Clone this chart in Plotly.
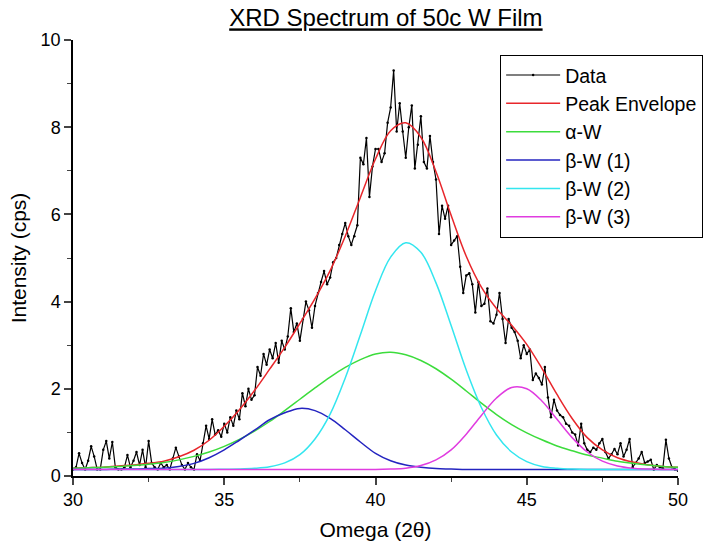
import plotly.graph_objects as go

# ---- measured data (step 0.1 deg) ----
data_x0 = 30.0
data_step = 0.1
data_y = [
    0.15, 0.2, 0.52, 0.3, 0.15, 0.35, 0.68, 0.45, 0.15, 0.15,
    0.6, 0.8, 0.4, 0.78, 0.2, 0.15, 0.15, 0.2, 0.48, 0.2,
    0.35, 0.55, 0.25, 0.6, 0.2, 0.8, 0.3, 0.2, 0.15, 0.3,
    0.2, 0.25, 0.15, 0.4, 0.65, 0.45, 0.25, 0.15, 0.3, 0.2,
    0.15, 0.5, 0.35, 0.75, 1.15, 0.85, 1.3, 0.95, 1.05, 0.9,
    1.2, 1.0, 1.35, 1.15, 1.5, 1.3, 1.9, 1.6, 2.0, 1.75,
    1.85, 2.5, 2.3, 2.8, 2.55, 2.9, 2.7, 3.05, 2.6, 3.1,
    2.9, 3.2, 3.85, 3.3, 3.5, 3.1, 3.6, 4.0, 3.8, 3.4,
    3.9, 4.2, 4.45, 4.7, 4.4, 4.55, 4.9, 5.0, 5.3, 5.55,
    5.8, 5.5, 5.3, 5.5, 5.75, 7.3, 7.15, 7.75, 6.4, 7.1,
    7.5, 7.5, 7.2, 7.4, 8.1, 8.45, 9.3, 7.9, 8.55, 7.9,
    7.3, 8.0, 8.5, 7.05, 7.6, 8.25, 7.2, 7.05, 7.8, 7.2,
    6.8, 5.55, 6.2, 5.9, 6.2, 5.3, 5.4, 5.5, 4.8, 4.2,
    4.6, 4.65, 4.4, 3.75, 4.45, 3.9, 3.95, 4.3, 3.55, 3.5,
    3.7, 4.2, 3.6, 3.05, 3.6, 3.4, 3.3, 3.1, 2.7, 3.0,
    2.8, 2.9, 2.2, 2.35, 2.25, 2.1, 2.5, 1.8, 1.35, 1.75,
    1.5, 1.4, 1.35, 1.2, 1.15, 1.0, 0.95, 0.7, 1.2, 0.75,
    0.6, 0.55, 0.65, 0.6, 0.75, 0.85, 0.55, 0.4, 0.5, 0.62,
    0.5, 0.75, 0.45, 0.6, 0.85, 0.2, 0.3, 0.4, 0.55, 0.3,
    0.33, 0.37, 0.15, 0.25, 0.2, 0.18, 0.83, 0.4, 0.2, 0.15,
    0.12,
]
data_x = [round(data_x0 + i * data_step, 2) for i in range(len(data_y))]

# ---- fitted curves (step 0.5 deg) ----
fit_x = [30 + 0.5 * i for i in range(41)]
envelope = [0.18, 0.19, 0.2, 0.23, 0.25, 0.29, 0.34, 0.44, 0.59, 0.82,
            1.14, 1.52, 1.96, 2.45, 2.95, 3.5, 4.07, 4.71, 5.5, 6.39,
            7.27, 7.92, 8.1, 7.77, 6.98, 5.98, 5.04, 4.33, 3.84, 3.46,
            3.02, 2.47, 1.87, 1.32, 0.88, 0.6, 0.42, 0.32, 0.26, 0.22, 0.2]
alpha_w = [0.18, 0.19, 0.2, 0.22, 0.24, 0.27, 0.31, 0.37, 0.45, 0.55,
           0.68, 0.84, 1.03, 1.25, 1.5, 1.76, 2.02, 2.27, 2.49, 2.67,
           2.8, 2.84, 2.78, 2.65, 2.46, 2.22, 1.95, 1.67, 1.41, 1.18,
           0.99, 0.83, 0.69, 0.58, 0.48, 0.41, 0.34, 0.29, 0.25, 0.22, 0.2]
beta_w1 = [0.15, 0.15, 0.15, 0.16, 0.16, 0.17, 0.18, 0.22, 0.29, 0.42,
           0.6, 0.82, 1.05, 1.29, 1.45, 1.55, 1.5, 1.32, 1.06, 0.78,
           0.52, 0.35, 0.25, 0.2, 0.17, 0.16, 0.15, 0.15, 0.15, 0.15,
           0.15, 0.15, 0.15, 0.15, 0.15, 0.15, 0.15, 0.15, 0.15, 0.15, 0.15]
beta_w2 = [0.15, 0.15, 0.15, 0.15, 0.15, 0.15, 0.15, 0.15, 0.15, 0.15,
           0.155, 0.16, 0.175, 0.21, 0.3, 0.49, 0.85, 1.42, 2.25, 3.24,
           4.25, 5.02, 5.35, 5.13, 4.43, 3.45, 2.43, 1.57, 0.94, 0.55,
           0.33, 0.22, 0.18, 0.16, 0.15, 0.15, 0.15, 0.15, 0.15, 0.15, 0.15]
beta_w3 = [0.15, 0.15, 0.15, 0.15, 0.15, 0.15, 0.15, 0.15, 0.15, 0.15,
           0.15, 0.15, 0.15, 0.15, 0.15, 0.15, 0.15, 0.15, 0.15, 0.15,
           0.15, 0.16, 0.18, 0.24, 0.37, 0.6, 0.96, 1.39, 1.79, 2.03,
           2.0, 1.72, 1.3, 0.88, 0.55, 0.34, 0.23, 0.18, 0.16, 0.15, 0.15]

x_ticks = [30, 35, 40, 45, 50]
y_ticks = [0, 2, 4, 6, 8, 10]

FONT = "Liberation Sans, Arial, sans-serif"

fig = go.Figure()
fig.add_trace(go.Scatter(x=data_x, y=data_y, name="Data", mode="lines+markers",
                         line=dict(color="black", width=1.2),
                         marker=dict(color="black", size=2.5)))
fig.add_trace(go.Scatter(x=fit_x, y=envelope, name="Peak Envelope", mode="lines",
                         line=dict(color="#e8262b", width=1.5, shape="spline")))
fig.add_trace(go.Scatter(x=fit_x, y=alpha_w, name="α-W", mode="lines",
                         line=dict(color="#3cdc3c", width=1.5, shape="spline")))
fig.add_trace(go.Scatter(x=fit_x, y=beta_w1, name="β-W (1)", mode="lines",
                         line=dict(color="#2424c0", width=1.5, shape="spline")))
fig.add_trace(go.Scatter(x=fit_x, y=beta_w2, name="β-W (2)", mode="lines",
                         line=dict(color="#33e6ef", width=1.5, shape="spline")))
fig.add_trace(go.Scatter(x=fit_x, y=beta_w3, name="β-W (3)", mode="lines",
                         line=dict(color="#e03ce0", width=1.5, shape="spline")))

fig.update_layout(
    width=712, height=545,
    margin=dict(l=73, r=34, t=40, b=69, autoexpand=False),
    paper_bgcolor="white", plot_bgcolor="white",
    font=dict(family=FONT, color="black", size=18),
    title=dict(text="<u>XRD Spectrum of 50c W Film</u>", x=0.542, xanchor="center",
               y=0.967, yanchor="middle", font=dict(size=24)),
    showlegend=True,
    legend=dict(x=0.706, y=0.966, xanchor="left", yanchor="top",
                bordercolor="black", borderwidth=1, bgcolor="white",
                font=dict(size=19.5), tracegroupgap=0, itemwidth=54),
)
fig.update_xaxes(range=[30, 50], tickvals=x_ticks, showline=True, linecolor="black",
                 linewidth=1.5, ticks="outside", ticklen=7, tickwidth=1.5,
                 showgrid=False, zeroline=False, mirror=False,
                 minor=dict(ticks="outside", dtick=2.5, ticklen=4, tickwidth=1, showgrid=False),
                 title=dict(text="Omega (2θ)", font=dict(size=21), standoff=13),
                 tickfont=dict(size=18))
fig.update_yaxes(range=[0, 10], tickvals=y_ticks, showline=True, linecolor="black",
                 linewidth=1.5, ticks="outside", ticklen=7, tickwidth=1.5,
                 showgrid=False, zeroline=False, mirror=False,
                 minor=dict(ticks="outside", dtick=1, ticklen=4, tickwidth=1, showgrid=False),
                 title=dict(text="Intensity (cps)", font=dict(size=21), standoff=8),
                 tickfont=dict(size=18))

fig.write_html("out.html")
